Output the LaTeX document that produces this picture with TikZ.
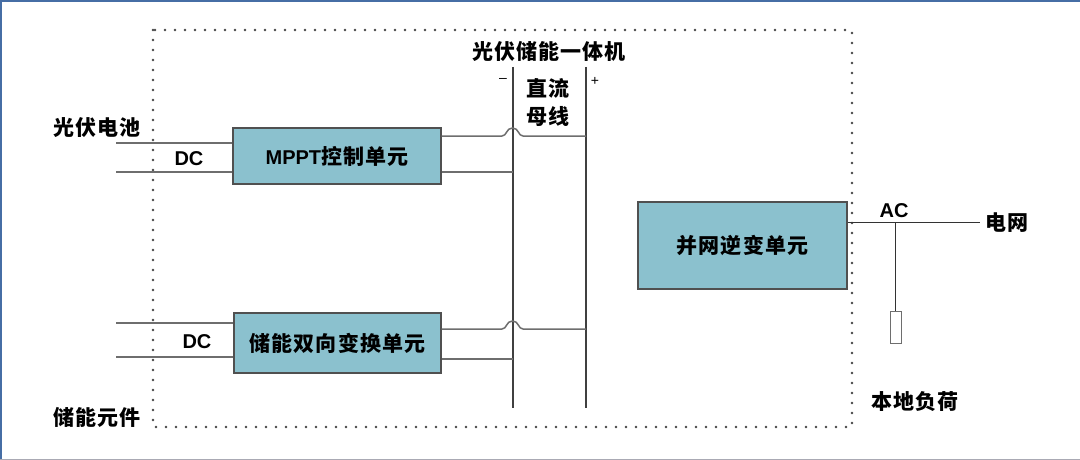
\documentclass[tikz,border=0pt]{standalone}
\usepackage{fontspec}
\setmainfont{Liberation Sans}
\newfontfamily\cjk{Noto Sans CJK SC}[LetterSpace=5]
\newfontfamily\lat{Liberation Sans}
\definecolor{boxfill}{RGB}{139,193,206}
\definecolor{boxline}{RGB}{80,80,80}
\definecolor{wiregray}{RGB}{110,110,110}
\definecolor{busgray}{RGB}{64,64,64}
\definecolor{dotgray}{RGB}{70,70,70}
\definecolor{frameblue}{RGB}{70,110,165}
\definecolor{framegray}{RGB}{170,170,180}
\begin{document}
\begin{tikzpicture}[x=1pt,y=-1pt,
  cjktxt/.style={inner sep=0pt, font=\fontsize{21}{25}\selectfont\cjk\bfseries},
  lattxt/.style={inner sep=0pt, font=\fontsize{20}{24}\selectfont\lat\bfseries},
  sign/.style={inner sep=0pt, font=\fontsize{14}{16}\selectfont},
  unitbox/.style={draw=boxline, fill=boxfill, line width=1.2pt, inner sep=0pt},
  wire/.style={draw=wiregray, line width=1.5pt},
  buswire/.style={draw=busgray, line width=2pt},
  thinwire/.style={draw=black!80, line width=1pt},
  frame/.style={draw=dotgray, line width=2.6pt, line cap=round, dash pattern=on 0pt off 10pt}]
\useasboundingbox (0,0) rectangle (1080,460);
\fill[white] (0,0) rectangle (1080,460);
% outer frame edges
\draw[frameblue, line width=2pt] (0,1) -- (1080,1);
\draw[frameblue, line width=2.5pt] (1,0) -- (1,460);
\draw[framegray, line width=1.5pt] (0,459.3) -- (1080,459.3);

% dotted enclosure
\draw[frame] (153,30) rectangle (852,427);

% title
\node[cjktxt] (title) at (549,51) {光伏储能一体机};

% bus
\coordinate (mtop) at (513,67);
\coordinate (mbot) at (513,408);
\coordinate (ptop) at (586,67);
\coordinate (pbot) at (586,408);
\draw[buswire] (mtop) -- (mbot);
\draw[buswire] (ptop) -- (pbot);
\node[sign] (minus) at (503,80) {–};
\node[sign] (plus) at (595,81) {+};
\node[cjktxt] (bus1) at (548,88) {直流};
\node[cjktxt] (bus2) at (548,116) {母线};

% units
\node[unitbox, minimum width=208pt, minimum height=56pt] (mppt) at (337,156)
  {\fontsize{21}{25}\selectfont\bfseries{\lat\fontsize{20}{24}\selectfont MPPT}{\cjk 控制单元}};
\node[unitbox, minimum width=207pt, minimum height=60pt] (stor) at (337.5,343)
  {\fontsize{21}{25}\selectfont\cjk\bfseries 储能双向变换单元};
\node[unitbox, minimum width=209pt, minimum height=87pt] (inv) at (742.5,245.5)
  {\fontsize{21}{25}\selectfont\cjk\bfseries 并网逆变单元};

% wire levels
\coordinate (ya) at (0,136);
\coordinate (yb) at (0,172);
\coordinate (yc) at (0,329);
\coordinate (yd) at (0,359);
\coordinate (pva) at (116,143);
\coordinate (pvb) at (116,172);
\coordinate (sta) at (116,323);
\coordinate (stb) at (116,357);

% PV side
\node[cjktxt, anchor=west] (pvlbl) at (53,128) {光伏电池};
\draw[wire] (pva) -- (mppt.west |- pva);
\draw[wire] (pvb) -- (mppt.west |- pvb);
\node[lattxt] (dc1) at (189,159) {DC};

% storage side
\node[cjktxt, anchor=west] (stlbl) at (53,417) {储能元件};
\draw[wire] (sta) -- (stor.west |- sta);
\draw[wire] (stb) -- (stor.west |- stb);
\node[lattxt] (dc2) at (197,342) {DC};

% MPPT to bus
\draw[wire] (mppt.east |- ya) -- (502,136) .. controls (507,136) and (506,128) .. (512.5,128)
  .. controls (519,128) and (518,136) .. (523,136) -- (ptop |- ya);
\draw[wire] (mppt.east |- yb) -- (mtop |- yb);
% storage to bus
\draw[wire] (stor.east |- yc) -- (502,329) .. controls (507,329) and (506,321) .. (512.5,321)
  .. controls (519,321) and (518,329) .. (523,329) -- (ptop |- yc);
\draw[wire] (stor.east |- yd) -- (mtop |- yd);

% AC side
\coordinate (ye) at (0,222);
\coordinate (grid) at (980,222);
\coordinate (junc) at (895.5,222);
\draw[thinwire] (inv.east |- ye) -- (grid);
\node[lattxt] (ac) at (894,211) {AC};
\node[cjktxt, anchor=west] (gridlbl) at (985,223) {电网};
\node[draw=wiregray, fill=white, line width=1pt, minimum width=11pt, minimum height=32pt, inner sep=0pt] (load) at (895.5,327) {};
\draw[thinwire] (junc) -- (load.north);
\node[cjktxt, anchor=west] (loadlbl) at (871,402) {本地负荷};
\end{tikzpicture}
\end{document}
